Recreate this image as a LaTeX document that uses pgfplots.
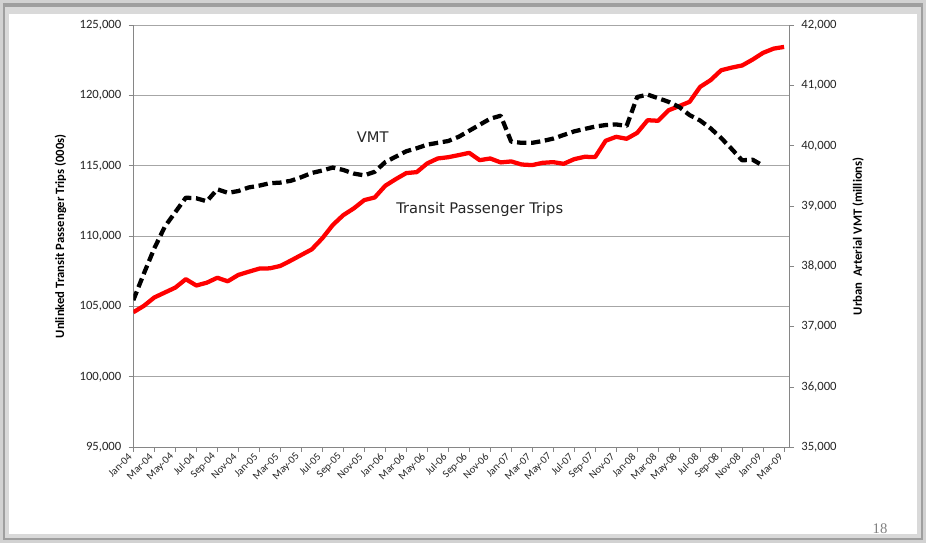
\documentclass[border=0pt]{standalone}
\usepackage{fontspec}
\setmainfont{Carlito}
\newfontfamily\verdana{DejaVu Sans}
\newfontfamily\timesf{Liberation Serif}
\usepackage{pgfplots}
\pgfplotsset{compat=1.18}
\definecolor{gridc}{HTML}{A6A6A6}
\definecolor{axisc}{HTML}{868686}
\definecolor{txt}{HTML}{262626}
\definecolor{trips}{HTML}{FF0000}

\pgfplotsset{
  slide/.style={
    at={(100pt,71.8pt)}, anchor=south west,
    scale only axis, width=492pt, height=316.5pt,
    xmin=0, xmax=62.5,
    axis line style={draw=axisc, line width=0.8pt, -},
    tick style={draw=axisc, line width=0.7pt},
    tick align=outside, major tick length=3.5pt,
    scaled y ticks=false,
    tick label style={font=\fontsize{9.5}{11}\selectfont, text=txt},
    label style={font=\bfseries\fontsize{9.5}{11}\selectfont, text=black},
    /pgf/number format/.cd, fixed, 1000 sep={,}, assume math mode=true,
  },
}

\begin{document}
\begin{tikzpicture}
\path[use as bounding box] (0,0) rectangle (694.5pt,407.25pt);
% slide frame
\fill[gray!35] (0,0) rectangle (694.5pt,407.25pt);
\fill[gray!75] (2pt,2pt) rectangle (692.5pt,405pt);
\fill[gray!30] (4pt,4pt) rectangle (690.5pt,402pt);
\fill[white] (7pt,7pt) rectangle (687.5pt,397pt);
\node[font=\timesf\fontsize{11}{13}\selectfont, text=gray] at (660pt,11pt) {18};

\begin{axis}[slide,
  ymin=95000, ymax=125000,
  ytick={95000,100000,...,125000},
  axis x line*=bottom, axis y line*=left,
  ymajorgrids, grid style={draw=gridc, line width=0.7pt},
  xtick={0,2,...,62},
  xticklabels={Jan-04,Mar-04,May-04,Jul-04,Sep-04,Nov-04,
    Jan-05,Mar-05,May-05,Jul-05,Sep-05,Nov-05,
    Jan-06,Mar-06,May-06,Jul-06,Sep-06,Nov-06,
    Jan-07,Mar-07,May-07,Jul-07,Sep-07,Nov-07,
    Jan-08,Mar-08,May-08,Jul-08,Sep-08,Nov-08,
    Jan-09,Mar-09},
  xticklabel style={rotate=45, anchor=east, font=\fontsize{8}{9}\selectfont},
  yticklabel style={xshift=-2pt},
  ylabel={Unlinked Transit Passenger Trips (000s)},
  ylabel style={at={(axis description cs:-0.111,0.5)}, anchor=center},
]
% transit passenger trips, Jan-04 .. Mar-09
\addplot[trips, line width=3.2pt, line join=round] coordinates {
(0,104600) (1,105050) (2,105650) (3,106000) (4,106350) (5,106950)
(6,106500) (7,106700) (8,107050) (9,106800) (10,107250) (11,107480)
(12,107700) (13,107720) (14,107890) (15,108270) (16,108670) (17,109070)
(18,109850) (19,110800) (20,111500) (21,111980) (22,112570) (23,112760)
(24,113590) (25,114060) (26,114490) (27,114560) (28,115180) (29,115530)
(30,115620) (31,115770) (32,115930) (33,115410) (34,115530) (35,115250)
(36,115320) (37,115100) (38,115060) (39,115220) (40,115270) (41,115150)
(42,115480) (43,115650) (44,115630) (45,116790) (46,117070) (47,116930)
(48,117350) (49,118250) (50,118210) (51,118960) (52,119250) (53,119560)
(54,120620) (55,121100) (56,121800) (57,121990) (58,122140) (59,122560)
(60,123040) (61,123340) (62,123460)
};
\node[font=\verdana\fontsize{11}{13}\selectfont, text=txt] at (axis cs:22.8,117040) {VMT};
\node[font=\verdana\fontsize{11}{13}\selectfont, text=txt] at (axis cs:33.0,111920) {Transit Passenger Trips};
\end{axis}

\begin{axis}[slide,
  ymin=35000, ymax=42000,
  ytick={35000,36000,...,42000},
  axis x line=none, axis y line*=right,
  yticklabel style={xshift=2pt},
  ylabel={Urban\ \ Arterial VMT (millions)},
  ylabel style={at={(axis description cs:1.105,0.5)}, anchor=center},
]
% urban arterial VMT, Jan-04 .. Jan-09
\addplot[black, line width=3.2pt, dash pattern=on 7pt off 3.5pt, line join=round] coordinates {
(0,37440) (1,37880) (2,38300) (3,38660) (4,38900) (5,39140)
(6,39130) (7,39080) (8,39280) (9,39220) (10,39250) (11,39310)
(12,39340) (13,39380) (14,39390) (15,39420) (16,39480) (17,39550)
(18,39590) (19,39640) (20,39600) (21,39540) (22,39510) (23,39570)
(24,39730) (25,39820) (26,39910) (27,39960) (28,40020) (29,40050)
(30,40080) (31,40150) (32,40250) (33,40350) (34,40450) (35,40500)
(36,40070) (37,40050) (38,40050) (39,40080) (40,40120) (41,40180)
(42,40240) (43,40280) (44,40320) (45,40345) (46,40355) (47,40330)
(48,40810) (49,40850) (50,40790) (51,40730) (52,40645) (53,40510)
(54,40420) (55,40290) (56,40130) (57,39950) (58,39760) (59,39770)
(60,39670)
};
\end{axis}
\end{tikzpicture}
\end{document}
